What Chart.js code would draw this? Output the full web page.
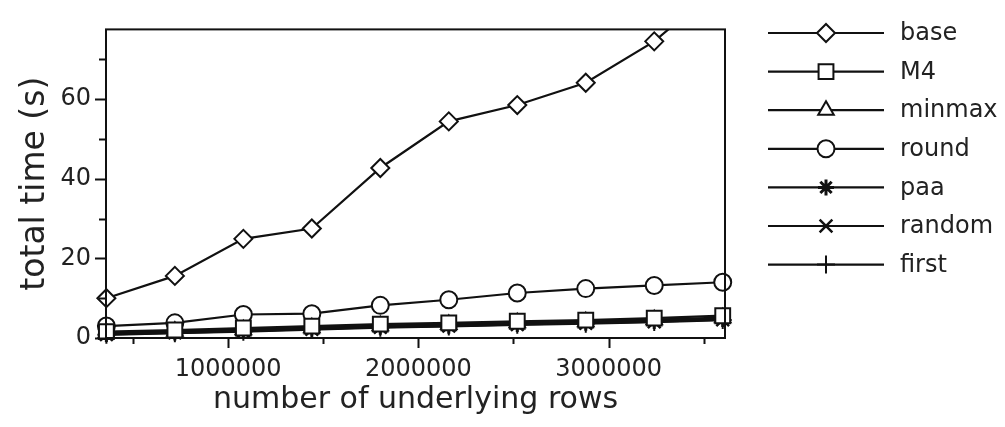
<!DOCTYPE html>
<html>
<head>
<meta charset="utf-8">
<script src="https://cdn.jsdelivr.net/npm/chart.js@4/dist/chart.umd.min.js"></script>
<style>
  html, body { margin: 0; padding: 0; background: #fff; }
  canvas { display: block; }
</style>
</head>
<body>
<canvas id="timeChart" width="1005" height="427"></canvas>
<script>
// DATA
const rows = [360000, 720000, 1080000, 1440000, 1800000, 2160000, 2520000, 2880000, 3240000, 3600000];
const baseTime   = [10, 15.6, 24.9, 27.5, 42.7, 54.4, 58.5, 64.1, 74.5, 89];
const m4Time     = [1.6, 2.0, 2.5, 3.0, 3.5, 3.8, 4.2, 4.5, 5.0, 5.6];
const minmaxTime = [1.3, 1.7, 2.1, 2.6, 3.1, 3.4, 3.8, 4.1, 4.6, 5.1];
const roundTime  = [3.0, 3.8, 5.9, 6.1, 8.2, 9.6, 11.3, 12.4, 13.2, 14.0];
const paaTime    = [1.0, 1.4, 1.8, 2.3, 2.8, 3.1, 3.5, 3.8, 4.3, 4.8];
const randomTime = [0.9, 1.3, 1.7, 2.2, 2.7, 3.0, 3.4, 3.7, 4.1, 4.6];
const firstTime  = [0.8, 1.2, 1.6, 2.1, 2.6, 2.9, 3.3, 3.6, 4.0, 4.5];
const seriesNames = ['base', 'M4', 'minmax', 'round', 'paa', 'random', 'first'];
const yTicks = [0, 10, 20, 30, 40, 50, 60, 70];
const yTickLabels = [0, 20, 40, 60];
const xTicks = [500000, 1000000, 1500000, 2000000, 2500000, 3000000, 3500000];
const xTickLabels = [1000000, 2000000, 3000000];

const INK = '#111';
const TXT = '#222';
const FONT = "'DejaVu Sans', Verdana, sans-serif";

const styles = [
  { pointStyle: 'rectRot', radius: 9, bw: 2, fill: '#fff' },
  { pointStyle: 'rect', radius: 10.5, bw: 2, fill: '#fff' },
  { pointStyle: 'triangle', radius: 9, bw: 2, fill: '#fff' },
  { pointStyle: 'circle', radius: 8.5, bw: 2, fill: '#fff' },
  { pointStyle: 'star', radius: 8, bw: 3, fill: INK },
  { pointStyle: 'crossRot', radius: 9, bw: 2.5, fill: INK },
  { pointStyle: 'cross', radius: 9, bw: 2, fill: INK }
];
const seriesData = [baseTime, m4Time, minmaxTime, roundTime, paaTime, randomTime, firstTime];

const datasets = seriesNames.map((name, i) => ({
  label: name,
  data: rows.map((r, j) => ({ x: r, y: seriesData[i][j] })),
  borderColor: INK,
  borderWidth: 2.2,
  backgroundColor: styles[i].fill,
  pointStyle: styles[i].pointStyle,
  pointRadius: styles[i].radius,
  pointBorderWidth: styles[i].bw,
  pointBorderColor: INK,
  pointBackgroundColor: styles[i].fill,
  tension: 0,
  clip: { left: 12, top: 0, right: 12, bottom: 12 }
}));

// box, tick marks and the legend
const decor = {
  id: 'decor',
  afterDraw(chart) {
    const { ctx, chartArea: a, scales: { x, y } } = chart;
    ctx.save();
    ctx.strokeStyle = INK;
    ctx.lineWidth = 2;
    ctx.strokeRect(a.left, a.top, a.right - a.left, a.bottom - a.top);

    ctx.beginPath();
    yTicks.forEach(v => {
      const py = Math.round(y.getPixelForValue(v)) + 0.5;
      const len = yTickLabels.includes(v) ? 11 : 7;
      ctx.moveTo(a.left - len, py);
      ctx.lineTo(a.left, py);
    });
    xTicks.forEach(v => {
      const px = Math.round(x.getPixelForValue(v)) + 0.5;
      const len = xTickLabels.includes(v) ? 10 : 6;
      ctx.moveTo(px, a.bottom);
      ctx.lineTo(px, a.bottom + len);
    });
    ctx.stroke();

    // legend
    const x0 = 768, x1 = 884, mx = 826, tx = 900;
    ctx.font = '24px ' + FONT;
    ctx.textBaseline = 'middle';
    chart.data.datasets.forEach((ds, i) => {
      const ly = 33 + i * 38.6;
      ctx.strokeStyle = INK;
      ctx.lineWidth = 2.2;
      ctx.beginPath();
      ctx.moveTo(x0, ly);
      ctx.lineTo(x1, ly);
      ctx.stroke();
      ctx.fillStyle = ds.pointBackgroundColor;
      ctx.lineWidth = ds.pointBorderWidth;
      Chart.helpers.drawPoint(ctx, {
        pointStyle: ds.pointStyle, radius: ds.pointRadius, rotation: 0, borderWidth: ds.pointBorderWidth
      }, mx, ly);
      ctx.fillStyle = TXT;
      ctx.fillText(ds.label, tx, ly + 1);
    });
    ctx.restore();
  }
};

new Chart(document.getElementById('timeChart'), {
  type: 'line',
  data: { datasets },
  plugins: [decor],
  options: {
    responsive: false,
    animation: false,
    events: [],
    layout: { padding: { left: 0, top: 9, right: 280, bottom: 0 } },
    plugins: { legend: { display: false }, tooltip: { enabled: false } },
    scales: {
      x: {
        type: 'linear',
        min: 358000,
        max: 3612000,
        grid: { display: false, drawTicks: false },
        border: { display: false },
        afterBuildTicks: s => { s.ticks = xTickLabels.map(v => ({ value: v })); },
        afterFit: s => { s.height = 89; },
        ticks: {
          autoSkip: false,
          maxRotation: 0,
          padding: 17,
          color: TXT,
          font: { family: FONT, size: 24 },
          callback: v => String(Math.round(v))
        },
        title: {
          display: true,
          text: 'number of underlying rows',
          color: TXT,
          font: { family: FONT, size: 30 },
          padding: { top: 0, bottom: 9 }
        }
      },
      y: {
        min: 0,
        max: 77.5,
        grid: { display: false, drawTicks: false },
        border: { display: false },
        afterBuildTicks: s => { s.ticks = yTickLabels.map(v => ({ value: v })); },
        afterFit: s => { s.width = 106; },
        ticks: {
          autoSkip: false,
          padding: 15,
          color: TXT,
          font: { family: FONT, size: 24 },
          callback: v => String(v)
        },
        title: {
          display: true,
          text: 'total time (s)',
          color: TXT,
          font: { family: FONT, size: 33 },
          padding: { top: 16, bottom: 0 }
        }
      }
    }
  }
});
</script>
</body>
</html>
